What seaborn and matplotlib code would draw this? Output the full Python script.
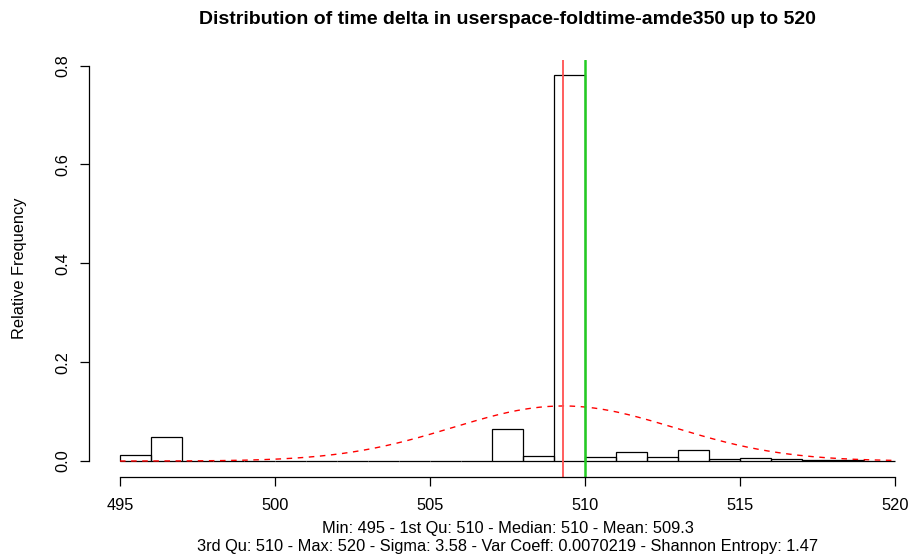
import numpy as np
import matplotlib
matplotlib.use('Agg')
import matplotlib.pyplot as plt
import seaborn as sns

# Histogram bins (width 1) from 495 to 520 and their relative frequencies
BIN_EDGES = list(range(495, 521))
REL_FREQ = [0.0115, 0.049, 0.0, 0.0, 0.0, 0.001, 0.0, 0.0, 0.0, 0.0,
            0.0, 0.0, 0.065, 0.0095, 0.781, 0.0087, 0.018, 0.0075, 0.022, 0.0035,
            0.006, 0.0035, 0.003, 0.0015, 0.001]

# Summary statistics
MEAN = 509.3
MEDIAN = 510
SIGMA = 3.58
X_TICKS = [495, 500, 505, 510, 515, 520]
Y_TICKS = [0.0, 0.2, 0.4, 0.6, 0.8]

TITLE = 'Distribution of time delta in userspace-foldtime-amde350 up to 520'
SUB1 = 'Min: 495 - 1st Qu: 510 - Median: 510 - Mean: 509.3'
SUB2 = '3rd Qu: 510 - Max: 520 - Sigma: 3.58 - Var Coeff: 0.0070219 - Shannon Entropy: 1.47'

sns.set_style('white')
plt.rcParams['font.family'] = ['Liberation Sans', 'DejaVu Sans']
plt.rcParams['text.color'] = 'black'
plt.rcParams['axes.labelcolor'] = 'black'
plt.rcParams['xtick.color'] = 'black'
plt.rcParams['ytick.color'] = 'black'

FS = 11.8

fig = plt.figure(figsize=(9.12, 5.57), dpi=100)
ax = fig.add_axes([89 / 912, 80.5 / 557, 837 / 912, 417 / 557])

# histogram outlines
sns.histplot(x=BIN_EDGES[:-1], weights=REL_FREQ, bins=BIN_EDGES, stat='count',
             fill=False, element='bars', color='black', linewidth=0.9, ax=ax)

# fitted normal curve
xs = np.linspace(495, 520, 300)
pdf = np.exp(-0.5 * ((xs - MEAN) / SIGMA) ** 2) / (SIGMA * np.sqrt(2 * np.pi))
sns.lineplot(x=xs, y=pdf, color='red', linestyle=(0, (4, 4)), linewidth=1.0, ax=ax)

# mean / median lines
ax.axvline(MEAN, color='#ff5050', linewidth=1.3)
ax.axvline(MEDIAN, color='#22cc22', linewidth=1.8)

ymax = max(REL_FREQ)
ax.set_xlim(494, 521)
ax.set_ylim(-0.04 * ymax, ymax * 1.04)

for s in ['top', 'right']:
    ax.spines[s].set_visible(False)
ax.spines['left'].set_bounds(0, 0.8)
ax.spines['bottom'].set_bounds(495, 520)
for s in ['left', 'bottom']:
    ax.spines[s].set_color('black')
    ax.spines[s].set_linewidth(0.9)

ax.set_xticks(X_TICKS)
ax.set_xticklabels([str(t) for t in X_TICKS], fontsize=FS)
ax.set_yticks(Y_TICKS)
ax.set_yticklabels([f'{t:.1f}' for t in Y_TICKS], fontsize=FS, rotation=90, va='center')
ax.tick_params(axis='both', direction='out', length=6.5, width=0.9, color='black',
               labelcolor='black', left=True, bottom=True)
ax.tick_params(axis='x', pad=9)
ax.tick_params(axis='y', pad=7)

ax.set_xlabel('')
ax.set_ylabel('Relative Frequency', fontsize=FS, color='black')
ax.yaxis.set_label_coords(-62 / 837, 0.5)

cx = 507.5 / 912
fig.text(cx, 1 - 19 / 557, TITLE, ha='center', va='center', fontsize=14,
         fontweight='bold', color='black')
fig.text(cx, 1 - 529 / 557, SUB1, ha='center', va='center', fontsize=FS, color='black')
fig.text(cx, 1 - 546 / 557, SUB2, ha='center', va='center', fontsize=FS, color='black')

fig.savefig('out.png', dpi=100)
